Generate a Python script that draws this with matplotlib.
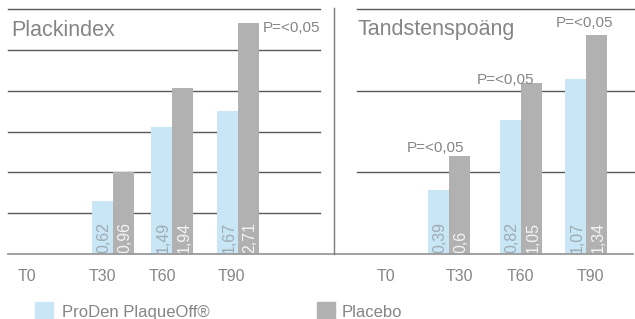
import numpy as np
import matplotlib.pyplot as plt
from matplotlib.lines import Line2D
from matplotlib.patches import Rectangle

plt.rcParams['font.family'] = ['Liberation Sans', 'DejaVu Sans']

# data
timepoints = ['T0', 'T30', 'T60', 'T90']
plack_proden = [np.nan, 0.62, 1.49, 1.67]
plack_placebo = [np.nan, 0.96, 1.94, 2.71]
tandsten_proden = [np.nan, 0.39, 0.82, 1.07]
tandsten_placebo = [np.nan, 0.60, 1.05, 1.34]
plack_signif = [False, False, False, True]
tandsten_signif = [False, True, True, True]
series_names = ['ProDen PlaqueOff®', 'Placebo']
p_text = 'P=<0,05'

blue = '#c9e6f6'
grey = '#b1b1b1'
text_grey = '#858585'
grid_col = '#5a5a5a'

W, H = 635, 319
fig = plt.figure(figsize=(W / 100, H / 100), dpi=100)


def fx(px):
    return px / W


def fy(py):
    return 1 - py / H


def px_axes(x0, x1, y_top, y_bot):
    return fig.add_axes([fx(x0), fy(y_bot), (x1 - x0) / W, (y_bot - y_top) / H])


def fmt(v):
    return '{:g}'.format(v).replace('.', ',')


def panel(ax, proden, placebo, signif, ticks, centers, width, xlim, ylim,
          grid_levels, grid_x0, grid_x1, p_offsets):
    ax.set_xlim(*xlim)
    ax.set_ylim(*ylim)
    for s in ax.spines.values():
        s.set_visible(False)
    ax.set_yticks([])
    ax.set_xticks(ticks, timepoints)
    ax.tick_params(axis='x', length=0, pad=11, labelsize=11.5, colors=text_grey)

    for g in grid_levels:
        ax.plot([grid_x0, grid_x1], [g, g], transform=ax.transAxes,
                color=grid_col, lw=1, zorder=0, clip_on=False)

    centers = np.array(centers)
    ax.bar(centers - width / 2, proden, width, color=blue, zorder=2)
    ax.bar(centers + width / 2, placebo, width, color=grey, zorder=2)

    for i in range(len(timepoints)):
        if np.isnan(proden[i]):
            continue
        ax.annotate(fmt(proden[i]), xy=(centers[i] - width / 2, 0), xytext=(1.5, 1),
                    textcoords='offset pixels', rotation=90, ha='center', va='bottom',
                    fontsize=11.5, color='#9eabb3', zorder=3)
        ax.annotate(fmt(placebo[i]), xy=(centers[i] + width / 2, 0), xytext=(1.5, 1),
                    textcoords='offset pixels', rotation=90, ha='center', va='bottom',
                    fontsize=11.5, color='#f4f4f4', zorder=3)

    j = 0
    for i in range(len(timepoints)):
        if not signif[i]:
            continue
        dx, dy, ha = p_offsets[j]
        ax.annotate(p_text, xy=(centers[i] + width, placebo[i]), xytext=(dx, dy),
                    textcoords='offset pixels', ha=ha, va='center',
                    fontsize=11, color=text_grey, annotation_clip=False)
        j += 1


# Plackindex panel (x unit = 75 px)
ax1 = px_axes(8, 330, 9, 254)
panel(ax1, plack_proden, plack_placebo, plack_signif,
      ticks=[0, 1, 1.8, 2.73], centers=[0, 1.147, 1.933, 2.813], width=0.28,
      xlim=(-0.253, 4.04), ylim=(0, 2.87),
      grid_levels=[k / 6 for k in range(1, 7)], grid_x0=0, grid_x1=0.969,
      p_offsets=[(4, -5, 'left')])

# Tandstenspoäng panel (x unit = 70 px)
ax2 = px_axes(333, 635, 9, 254)
panel(ax2, tandsten_proden, tandsten_placebo, tandsten_signif,
      ticks=[0, 1.043, 1.914, 2.914], centers=[0, 0.9, 1.93, 2.857], width=0.3,
      xlim=(-0.757, 3.557), ylim=(0, 1.5),
      grid_levels=[1 / 3, 2 / 3, 1], grid_x0=0.08, grid_x1=1,
      p_offsets=[(-34, 8, 'center'), (-37, 2, 'center'), (-22, 12, 'center')])

# baseline and divider
fig.add_artist(Line2D([fx(8), fx(633)], [fy(254), fy(254)], color='#9a9a9a', lw=1.3))
fig.add_artist(Line2D([fx(334), fx(334)], [fy(8), fy(254)], color='#7a7a7a', lw=1))

# titles
fig.text(fx(11), fy(35.5), 'Plackindex', fontsize=15.5, color=text_grey, va='baseline')
fig.text(fx(357), fy(34.5), 'Tandstenspoäng', fontsize=15.5, color=text_grey, va='baseline')

# legend
for x_sq, x_txt, col, name in [(35, 62, blue, series_names[0]), (317, 342, grey, series_names[1])]:
    fig.patches.append(Rectangle((fx(x_sq), fy(320)), 18 / W, 18 / H,
                                 transform=fig.transFigure, color=col))
    fig.text(fx(x_txt), fy(317.3), name, fontsize=12, color=text_grey, va='baseline')

fig.savefig('out.png', dpi=100)
